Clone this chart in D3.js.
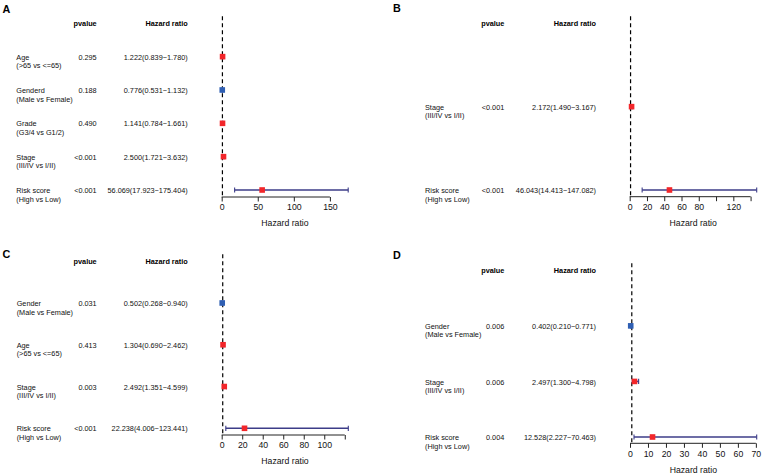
<!DOCTYPE html>
<html>
<head>
<meta charset="utf-8">
<script src="https://cdn.jsdelivr.net/npm/d3@7"></script>
<style>
  html, body { margin: 0; padding: 0; background: #fff; }
  svg { display: block; font-family: "Liberation Sans", Arial, sans-serif; }
</style>
</head>
<body>
<svg id="chart" width="763" height="476"></svg>
<script>
// ---------------- DATA ----------------
const labelsA = ["Age", "Genderd", "Grade", "Stage", "Risk score"];
const subsA   = ["(>65 vs <=65)", "(Male vs Female)", "(G3/4 vs G1/2)", "(III/IV vs I/II)", "(High vs Low)"];
const pvalA   = ["0.295", "0.188", "0.490", "<0.001", "<0.001"];
const hrA     = [1.222, 0.776, 1.141, 2.500, 56.069];
const lowA    = [0.839, 0.531, 0.784, 1.721, 17.923];
const highA   = [1.780, 1.132, 1.661, 3.632, 175.404];
const ticksA  = [0, 50, 100, 150];
const tickLabelsA = ["0", "50", "100", "150"];

const labelsB = ["Stage", "Risk score"];
const subsB   = ["(III/IV vs I/II)", "(High vs Low)"];
const pvalB   = ["<0.001", "<0.001"];
const hrB     = [2.172, 46.043];
const lowB    = [1.490, 14.413];
const highB   = [3.167, 147.082];
const ticksB  = [0, 20, 40, 60, 80, 100, 120, 140];
const tickLabelsB = ["0", "20", "40", "60", "80", "", "120", ""];

const labelsC = ["Gender", "Age", "Stage", "Risk score"];
const subsC   = ["(Male vs Female)", "(>65 vs <=65)", "(III/IV vs I/II)", "(High vs Low)"];
const pvalC   = ["0.031", "0.413", "0.003", "<0.001"];
const hrC     = [0.502, 1.304, 2.492, 22.238];
const lowC    = [0.268, 0.690, 1.351, 4.006];
const highC   = [0.940, 2.462, 4.599, 123.441];
const ticksC  = [0, 20, 40, 60, 80, 100, 120];
const tickLabelsC = ["0", "20", "40", "60", "80", "100", ""];

const labelsD = ["Gender", "Stage", "Risk score"];
const subsD   = ["(Male vs Female)", "(III/IV vs I/II)", "(High vs Low)"];
const pvalD   = ["0.006", "0.006", "0.004"];
const hrD     = [0.402, 2.497, 12.528];
const lowD    = [0.210, 1.300, 2.227];
const highD   = [0.771, 4.798, 70.463];
const ticksD  = [0, 10, 20, 30, 40, 50, 60, 70];
const tickLabelsD = ["0", "10", "20", "30", "40", "50", "60", "70"];

const headerP  = "pvalue";
const headerHR = "Hazard ratio";
const xTitle   = "Hazard ratio";

// ---------------- LAYOUT ----------------
const svg = d3.select("#chart");
const RED = "#f2262a", BLUE = "#2f5fb3", BAR = "#3c3c88";
const FS = 7.3, TFS = 8.7;

function fmt(v) { return v.toFixed(3); }

function drawPanel(cfg, labels, subs, pvals, hr, low, high, ticks, tickLabels) {
  const g = svg.append("g");
  const n = labels.length;
  const y = d3.scaleLinear().domain([0, n]).range([cfg.headerY, cfg.lastY]);
  const x = d3.scaleLinear().domain([0, d3.max(high)]).range([cfg.x0, cfg.x1]);

  // panel letter
  g.append("text").attr("x", cfg.letterX).attr("y", cfg.letterY)
    .attr("font-size", 10.8).attr("font-weight", "bold").text(cfg.letter);

  // headers
  g.append("text").attr("x", cfg.pRight).attr("y", cfg.headerY + 2.6)
    .attr("text-anchor", "end").attr("font-size", FS).attr("font-weight", "bold").text(headerP);
  g.append("text").attr("x", cfg.hrRight).attr("y", cfg.headerY + 2.6)
    .attr("text-anchor", "end").attr("font-size", FS).attr("font-weight", "bold").text(headerHR);

  const rows = d3.range(n);
  // labels
  g.selectAll(".lab").data(rows).join("text")
    .attr("x", cfg.labelX).attr("y", i => y(i + 1) + 3.1)
    .attr("font-size", FS).attr("fill", "#111").text(i => labels[i]);
  g.selectAll(".sub").data(rows).join("text")
    .attr("x", cfg.labelX).attr("y", i => y(i + 1) + 11.6)
    .attr("font-size", FS).attr("fill", "#111").text(i => subs[i]);
  g.selectAll(".pv").data(rows).join("text")
    .attr("x", cfg.pRight).attr("y", i => y(i + 1) + 3.1).attr("text-anchor", "end")
    .attr("font-size", FS).attr("fill", "#111").text(i => pvals[i]);
  g.selectAll(".hrt").data(rows).join("text")
    .attr("x", cfg.hrRight).attr("y", i => y(i + 1) + 3.1).attr("text-anchor", "end")
    .attr("font-size", FS).attr("fill", "#111")
    .text(i => fmt(hr[i]) + "(" + fmt(low[i]) + "\u2212" + fmt(high[i]) + ")");

  // dashed reference line at HR = 1
  g.append("line").attr("x1", x(1)).attr("x2", x(1))
    .attr("y1", cfg.headerY - 7).attr("y2", cfg.axisY)
    .attr("stroke", "#000").attr("stroke-width", 1.2).attr("stroke-dasharray", "4,3");

  // error bars
  g.selectAll(".ci").data(rows).join("line")
    .attr("x1", i => x(low[i])).attr("x2", i => x(high[i]))
    .attr("y1", i => y(i + 1)).attr("y2", i => y(i + 1))
    .attr("stroke", BAR).attr("stroke-width", 1.6);
  [low, high].forEach(arr => {
    g.selectAll(null).data(rows).join("line")
      .attr("x1", i => x(arr[i])).attr("x2", i => x(arr[i]))
      .attr("y1", i => y(i + 1) - 2.6).attr("y2", i => y(i + 1) + 2.6)
      .attr("stroke", BAR).attr("stroke-width", 1.1);
  });
  // markers
  const s = 5.6;
  g.selectAll(".pt").data(rows).join("rect")
    .attr("x", i => x(hr[i]) - s / 2).attr("y", i => y(i + 1) - s / 2)
    .attr("width", s).attr("height", s)
    .attr("fill", i => hr[i] > 1 ? RED : BLUE);

  // axis
  const ax = d3.axisBottom(x).tickValues(ticks)
    .tickFormat((d, i) => tickLabels[i]).tickSize(4.5).tickPadding(2.8);
  const axg = g.append("g").attr("transform", `translate(0,${cfg.axisY})`).call(ax);
  axg.select(".domain").remove();
  axg.append("line").attr("x1", x(ticks[0])).attr("x2", x(ticks[ticks.length - 1]))
    .attr("y1", 0).attr("y2", 0).attr("stroke", "#222").attr("stroke-width", 1);
  axg.selectAll(".tick line").attr("stroke", "#222");
  axg.selectAll(".tick text").attr("font-size", TFS).attr("fill", "#111")
    .attr("font-family", "Liberation Sans, Arial, sans-serif");

  g.append("text").attr("x", (cfg.x0 + cfg.x1) / 2).attr("y", cfg.axisY + 29.3)
    .attr("text-anchor", "middle").attr("font-size", TFS).attr("fill", "#111").text(xTitle);
}

drawPanel({letter: "A", letterX: 2.5, letterY: 12.7, labelX: 16.3, pRight: 96.7, hrRight: 187.7,
           headerY: 23.3, lastY: 190, axisY: 197, x0: 221.7, x1: 348.2},
          labelsA, subsA, pvalA, hrA, lowA, highA, ticksA, tickLabelsA);
drawPanel({letter: "B", letterX: 393, letterY: 12, labelX: 425, pRight: 504.3, hrRight: 596,
           headerY: 23.3, lastY: 190, axisY: 196.7, x0: 629.7, x1: 756.7},
          labelsB, subsB, pvalB, hrB, lowB, highB, ticksB, tickLabelsB);
drawPanel({letter: "C", letterX: 2.5, letterY: 257.7, labelX: 16.7, pRight: 96.7, hrRight: 187.7,
           headerY: 261.2, lastY: 428.3, axisY: 435, x0: 221.7, x1: 348.3},
          labelsC, subsC, pvalC, hrC, lowC, highC, ticksC, tickLabelsC);
drawPanel({letter: "D", letterX: 393, letterY: 258.5, labelX: 425, pRight: 504.3, hrRight: 596,
           headerY: 270.3, lastY: 437, axisY: 443.3, x0: 630, x1: 756.7},
          labelsD, subsD, pvalD, hrD, lowD, highD, ticksD, tickLabelsD);
</script>
</body>
</html>
